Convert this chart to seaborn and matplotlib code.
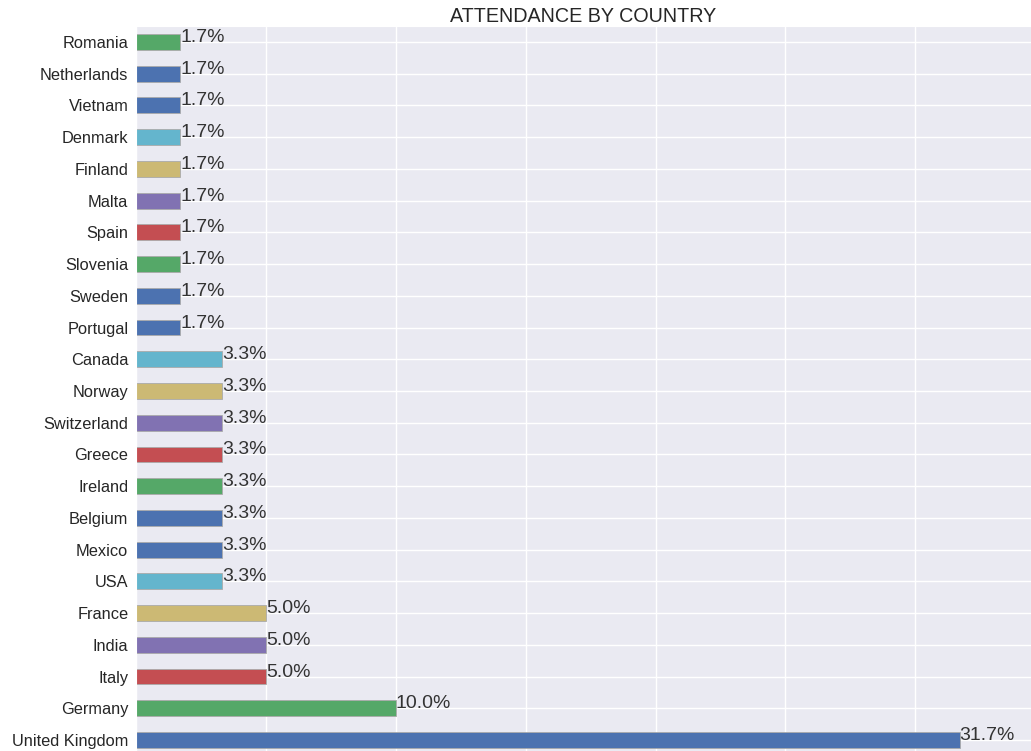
import numpy as np
import matplotlib
matplotlib.use('Agg')
import matplotlib.pyplot as plt
import seaborn as sns

# countries listed top to bottom, share of attendance in percent
countries = ['Romania', 'Netherlands', 'Vietnam', 'Denmark', 'Finland', 'Malta',
             'Spain', 'Slovenia', 'Sweden', 'Portugal', 'Canada', 'Norway',
             'Switzerland', 'Greece', 'Ireland', 'Belgium', 'Mexico', 'USA',
             'France', 'India', 'Italy', 'Germany', 'United Kingdom']
percent = [1.7, 1.7, 1.7, 1.7, 1.7, 1.7, 1.7, 1.7, 1.7, 1.7,
           3.3, 3.3, 3.3, 3.3, 3.3, 3.3, 3.3, 3.3,
           5.0, 5.0, 5.0, 10.0, 31.7]
bar_colors = ['#55A868', '#4C72B0', '#4C72B0', '#64B5CD', '#CCB974', '#8172B2',
              '#C44E52', '#55A868', '#4C72B0', '#4C72B0', '#64B5CD', '#CCB974',
              '#8172B2', '#C44E52', '#55A868', '#4C72B0', '#4C72B0', '#64B5CD',
              '#CCB974', '#8172B2', '#C44E52', '#55A868', '#4C72B0']

sns.set_style('darkgrid')
plt.rcParams['font.family'] = ['Liberation Sans', 'DejaVu Sans']

fig = plt.figure(figsize=(10.31, 7.51), dpi=100)
ax = fig.add_axes([0.1319, -0.0065, 0.8681, 0.9718])

sns.barplot(x=percent, y=countries, hue=countries, palette=bar_colors,
            legend=False, width=0.5, edgecolor='#aaaaaa', linewidth=0.6,
            orient='h', ax=ax, saturation=1)

for i, v in enumerate(percent):
    ax.text(v, i, f'{v:.1f}%', fontsize=14, color='#333333')

ax.set_xlim(0, 34.45)
ax.set_ylim(len(countries) - 0.5, -0.5)
ax.set_xticks(np.arange(0, 35, 5))
ax.grid(True, axis='both', color='white', linewidth=1)
ax.set_axisbelow(True)
ax.tick_params(labelbottom=False, labelsize=11.8, colors='#262626', pad=2)
ax.set_xlabel('')
ax.set_ylabel('')
ax.set_title('ATTENDANCE BY COUNTRY', fontsize=14.2, color='#262626', pad=3)

fig.savefig('out.png', dpi=100)
